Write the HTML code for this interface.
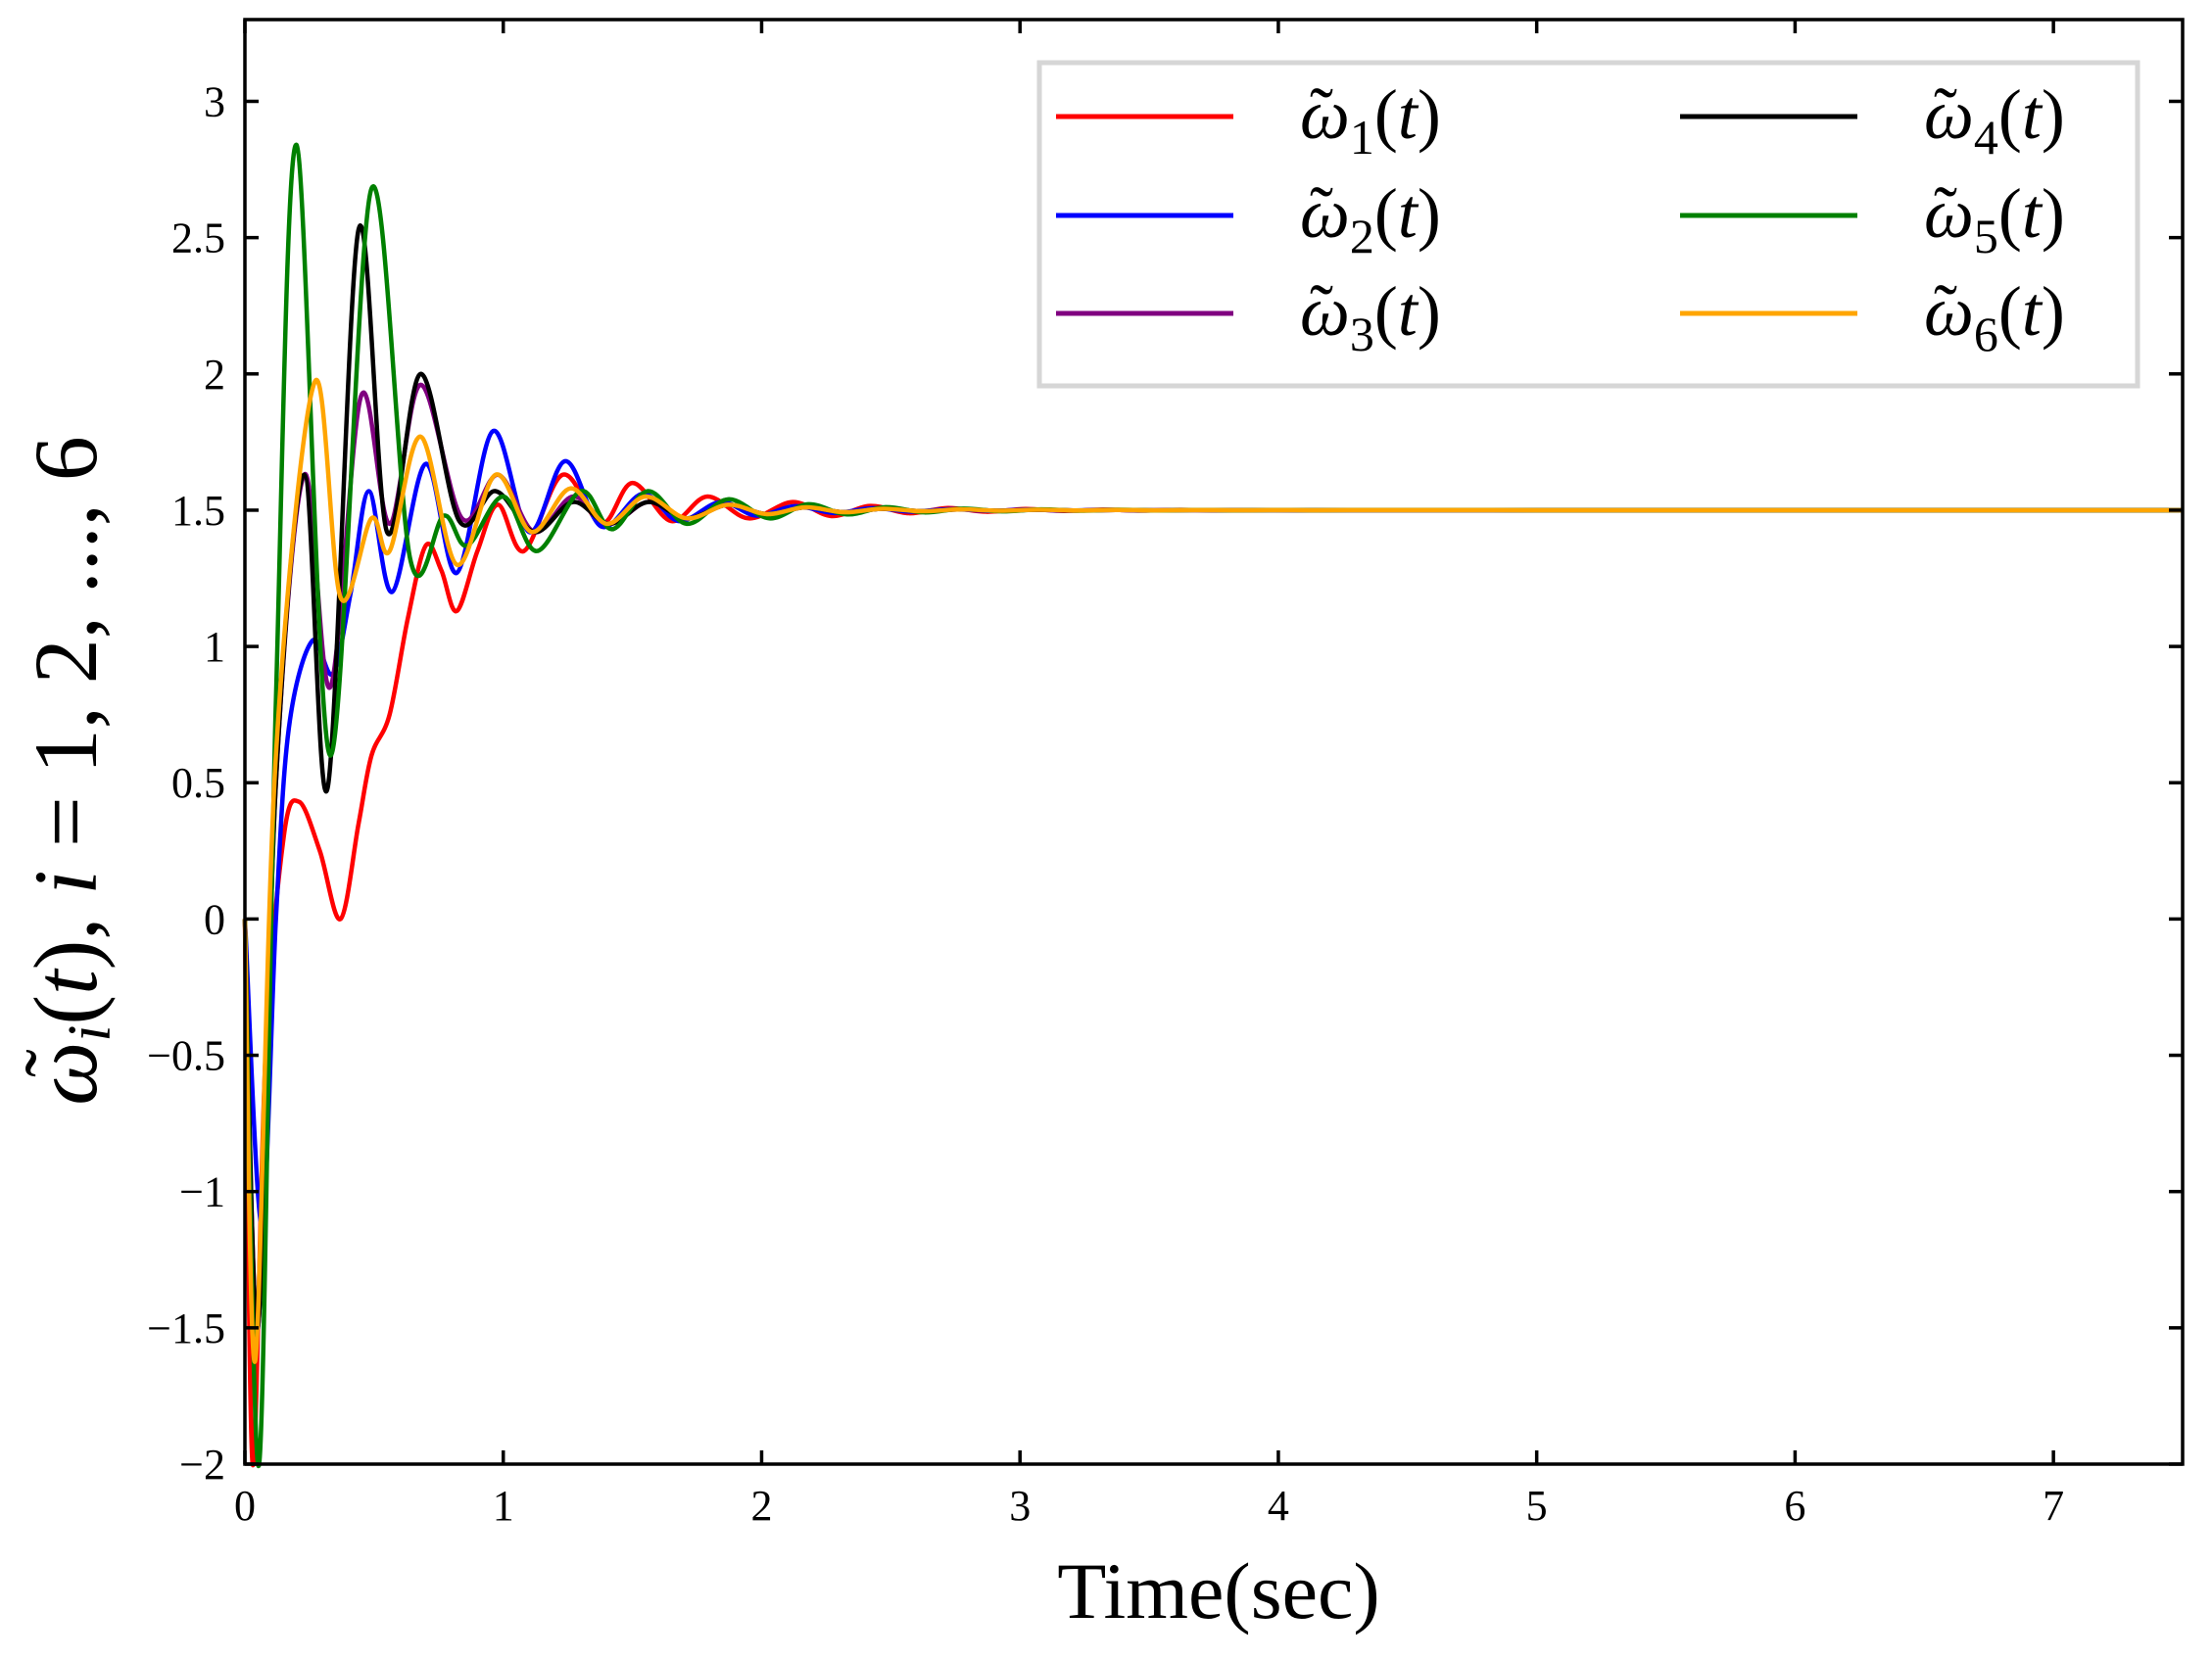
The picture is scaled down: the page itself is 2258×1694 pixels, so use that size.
<!DOCTYPE html>
<html><head><meta charset="utf-8"><style>
html,body{margin:0;padding:0;background:#fff;}
svg{display:block;}
text{font-family:"Liberation Serif",serif;fill:#000;}
</style></head><body>
<svg id="s" width="2258" height="1694" xmlns="http://www.w3.org/2000/svg">
<rect width="2258" height="1694" fill="#fff"/>
<g id="curves"></g>
<rect x="250" y="20" width="1978" height="1475" fill="none" stroke="#000" stroke-width="3.5"/>
<g id="ticks" stroke="#000" stroke-width="3.5"></g>
<g id="labels" font-size="44"></g>
<rect x="1061" y="64" width="1121" height="330" fill="#fff" stroke="#d6d6d6" stroke-width="5"/>
<g stroke-width="5">
<line x1="1078" y1="119" x2="1259" y2="119" stroke="#ff0000"/>
<line x1="1078" y1="220" x2="1259" y2="220" stroke="#0000ff"/>
<line x1="1078" y1="320" x2="1259" y2="320" stroke="#800080"/>
<line x1="1715" y1="119" x2="1896" y2="119" stroke="#000000"/>
<line x1="1715" y1="220" x2="1896" y2="220" stroke="#008000"/>
<line x1="1715" y1="320" x2="1896" y2="320" stroke="#ffa500"/>
</g>
<g id="leg" font-size="72"></g>
<text x="1244" y="1652" font-size="82" text-anchor="middle">Time(sec)</text>
<g transform="translate(98,787) rotate(-90)">
<text x="0" y="0" font-size="92" text-anchor="middle"><tspan font-style="italic">ω</tspan><tspan font-style="italic" font-size="62" dy="14">i</tspan><tspan dy="-14">(</tspan><tspan font-style="italic">t</tspan>), <tspan font-style="italic">i</tspan> = 1, 2, ..., 6</text>
</g>
<text transform="translate(84,1100) rotate(-90)" font-size="86">˜</text>
</svg>
<script>
var L=250,R=2228,T=20,B=1495,X0=0,X1=7.5,Y0=-2,Y1=3.3;
function px(t){return L+(t-X0)/(X1-X0)*(R-L);}
function py(v){return B-(v-Y0)/(Y1-Y0)*(B-T);}
var ns="http://www.w3.org/2000/svg";
function el(p,n,a,txt){var e=document.createElementNS(ns,n);for(var k in a)e.setAttribute(k,a[k]);if(txt!=null)e.textContent=txt;p.appendChild(e);return e;}
var tk=document.getElementById('ticks'),lb=document.getElementById('labels');
for(var i=0;i<=7;i++){var x=px(i);el(tk,'line',{x1:x,y1:B,x2:x,y2:B-14});el(tk,'line',{x1:x,y1:T,x2:x,y2:T+14});
el(lb,'text',{x:x,y:B+57,'text-anchor':'middle'},String(i));}
for(var v=-2;v<=3.001;v+=0.5){var y=py(v);el(tk,'line',{x1:L,y1:y,x2:L+14,y2:y});el(tk,'line',{x1:R,y1:y,x2:R-14,y2:y});
var s=(Math.abs(v-Math.round(v))<1e-6)?String(Math.round(v)):v.toFixed(1);s=s.replace('-','\u2212');
el(lb,'text',{x:L-20,y:y+15,'text-anchor':'end'},s);}
var leg=document.getElementById('leg');
var items=[[1327,141,'1'],[1327,242,'2'],[1327,342,'3'],[1964,141,'4'],[1964,242,'5'],[1964,342,'6']];
items.forEach(function(it){
 var t=el(leg,'text',{x:it[0],y:it[1]});
 el(t,'tspan',{'font-style':'italic'},'ω');
 el(t,'tspan',{'font-size':50,dy:16},it[2]);
 el(t,'tspan',{dy:-16},'(');
 el(t,'tspan',{'font-style':'italic'},'t');
 el(t,'tspan',{},')');
 el(leg,'text',{x:it[0]+10,y:it[1]-2,'font-size':72},'˜');
});
var data={
'#ff0000':[[0,0],[0.03,-2],[0.08,-0.5],[0.15,0.3],[0.21,0.43],[0.29,0.25],[0.37,0],[0.44,0.35],[0.49,0.6],[0.56,0.75],[0.63,1.1],[0.70,1.37],[0.76,1.28],[0.82,1.13],[0.90,1.35],[0.98,1.52],[1.08,1.35],[1.23,1.63],[1.38,1.45],[1.5,1.6],[1.65,1.46],[1.79,1.55],[1.95,1.47],[2.12,1.53]],
'#0000ff':[[0,0],[0.065,-1.12],[0.12,0.0],[0.17,0.7],[0.26,1.02],[0.34,0.9],[0.41,1.2],[0.48,1.57],[0.57,1.2],[0.70,1.67],[0.82,1.27],[0.96,1.79],[1.1,1.42],[1.24,1.68],[1.38,1.44],[1.54,1.56],[1.68,1.46],[1.84,1.53],[1.98,1.48]],
'#800080':[[0,0],[0.05,-1.5],[0.12,0.5],[0.23,1.63],[0.33,0.85],[0.45,1.92],[0.56,1.45],[0.68,1.96],[0.84,1.47],[0.98,1.63],[1.12,1.42],[1.27,1.55],[1.41,1.45],[1.56,1.53],[1.71,1.47],[1.87,1.52]],
'#000000':[[0,0],[0.05,-1.5],[0.12,0.5],[0.23,1.63],[0.32,0.48],[0.44,2.53],[0.55,1.42],[0.68,2.0],[0.83,1.46],[0.97,1.57],[1.12,1.42],[1.27,1.53],[1.41,1.45],[1.56,1.53],[1.71,1.47],[1.87,1.52]],
'#008000':[[0,0],[0.055,-2],[0.12,0.8],[0.2,2.84],[0.33,0.6],[0.49,2.68],[0.64,1.32],[0.77,1.48],[0.86,1.37],[1.0,1.55],[1.13,1.35],[1.3,1.57],[1.42,1.43],[1.56,1.57],[1.71,1.45],[1.87,1.54],[2.03,1.47]],
'#ffa500':[[0,0],[0.04,-1.62],[0.12,0.6],[0.27,1.97],[0.37,1.18],[0.49,1.47],[0.56,1.35],[0.68,1.77],[0.82,1.3],[0.97,1.63],[1.11,1.42],[1.26,1.58],[1.4,1.45],[1.55,1.55],[1.71,1.47],[1.87,1.52]]
};
var g=document.getElementById('curves');
for(var c in data){var p=data[c].slice();var last=p[p.length-1];var a=last[1]-1.5,t=last[0];
while(t<4.2){t+=0.15;a*=-0.72;p.push([t,1.5+a]);}p.push([5,1.5]);p.push([7.5,1.5]);
var pts=p.map(function(q){return [px(q[0]),py(q[1])];});
var d='M'+pts[0][0]+','+pts[0][1];
for(var i=0;i<pts.length-1;i++){var p0=pts[Math.max(0,i-1)],p1=pts[i],p2=pts[i+1],p3=pts[Math.min(pts.length-1,i+2)];
var c1=[p1[0]+(p2[0]-p0[0])/6,p1[1]+(p2[1]-p0[1])/6],c2=[p2[0]-(p3[0]-p1[0])/6,p2[1]-(p3[1]-p1[1])/6];
d+='C'+c1[0]+','+c1[1]+' '+c2[0]+','+c2[1]+' '+p2[0]+','+p2[1];}
el(g,'path',{d:d,fill:'none',stroke:c,'stroke-width':4.5,'stroke-linejoin':'round'});}
</script>
</body></html>
